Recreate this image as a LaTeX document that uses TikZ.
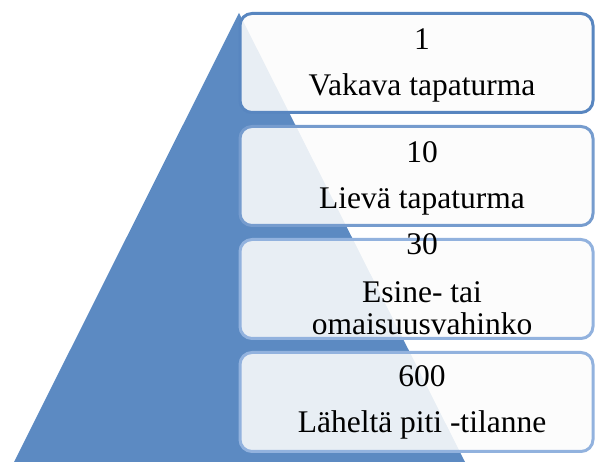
\documentclass[tikz,border=0pt]{standalone}
\usepackage{fontspec}
\setmainfont{Liberation Serif}
\usepackage{tikz}
\usetikzlibrary{positioning, calc}
\definecolor{pyramidcolor}{RGB}{92, 138, 194}
\definecolor{borderdark}{RGB}{88, 134, 192}
\definecolor{bordermid}{RGB}{118, 156, 206}
\definecolor{borderlight}{RGB}{146, 178, 222}
\definecolor{boxfill}{RGB}{252, 252, 252}

\begin{document}
\begin{tikzpicture}[
    x=1pt, y=-1pt,
    node distance=11pt,
    levelbox/.style={rectangle, draw, line width=3pt, rounded corners=12pt, minimum width=353pt, minimum height=99pt, fill=boxfill, fill opacity=0.88},
    leveltext/.style={align=center, font=\fontsize{31.5}{32}\selectfont, xshift=5.5pt},
]
\useasboundingbox (0,0) rectangle (595,462);

% ============ PYRAMID ============
\fill[pyramidcolor] (239,13) -- (465,462) -- (14,462) -- cycle;

% ============ LEVEL BOXES ============
\node[levelbox, draw=borderdark] (box1) at (416.5,63) {};
\node[levelbox, draw=bordermid, below=of box1] (box2) {};
\node[levelbox, draw=borderlight, below=of box2] (box3) {};
\node[levelbox, draw=borderlight, below=of box3] (box4) {};

% ============ LEVEL TEXTS ============
\node[leveltext, yshift=-2pt] (text1) at (box1) {1\\[14pt]Vakava tapaturma};
\node[leveltext, yshift=-2pt] (text2) at (box2) {10\\[14pt]Lievä tapaturma};
\node[leveltext, yshift=4.5pt] (text3) at (box3) {30\\[16pt]Esine- tai\\omaisuusvahinko};
\node[leveltext, yshift=0pt] (text4) at (box4) {600\\[14pt]Läheltä piti -tilanne};

\end{tikzpicture}
\end{document}
